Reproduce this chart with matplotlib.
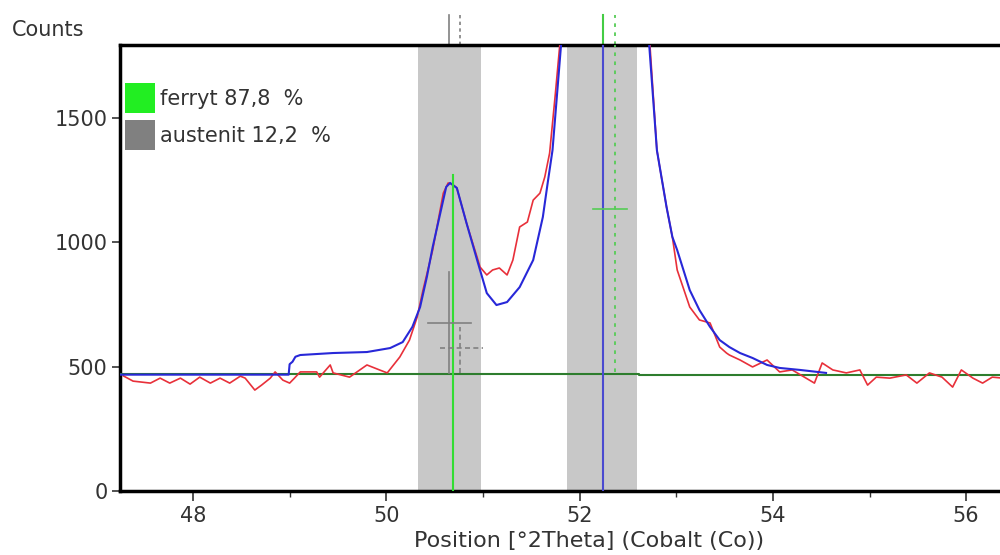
import matplotlib
matplotlib.use("Agg")
import matplotlib.pyplot as plt
from matplotlib.patches import Rectangle

# ---- data ----
obs_x = [47.28, 47.38, 47.56, 47.66, 47.76, 47.87, 47.97, 48.07, 48.18, 48.28, 48.38, 48.49,
         48.54, 48.64, 48.71, 48.80, 48.85, 48.93, 49.00, 49.05, 49.11, 49.28, 49.31, 49.42,
         49.45, 49.62, 49.80, 49.93, 50.01, 50.14, 50.24, 50.32, 50.38, 50.48, 50.59, 50.64,
         50.68, 50.73, 50.83, 50.94, 50.97, 51.04, 51.10, 51.17, 51.25, 51.31, 51.38, 51.46,
         51.52, 51.59, 51.64, 51.69, 51.75, 51.82, 52.00, 52.24, 52.45, 52.71, 52.80, 52.90,
         52.96, 53.01, 53.14, 53.24, 53.35, 53.45, 53.52, 53.55, 53.66, 53.79, 53.94, 54.07,
         54.20, 54.43, 54.51, 54.62, 54.76, 54.90, 54.98, 55.07, 55.21, 55.38, 55.49, 55.62,
         55.75, 55.86, 55.95, 56.07, 56.17, 56.27, 56.38]
obs_y = [463, 442, 434, 454, 434, 454, 430, 458, 434, 454, 434, 462,
         454, 406, 426, 454, 479, 446, 434, 454, 479, 479, 458, 507,
         475, 458, 507, 487, 475, 539, 607, 700, 808, 969, 1198, 1239,
         1235, 1219, 1078, 940, 901, 869, 889, 897, 869, 929, 1062, 1082,
         1170, 1198, 1263, 1359, 1600, 1900, 3500, 4500, 3500, 1900, 1371, 1142,
         1022, 889, 740, 688, 676, 579, 555, 547, 527, 499, 527, 479,
         487, 434, 515, 487, 475, 487, 426, 458, 454, 467, 434, 475,
         458, 418, 487, 454, 434, 458, 454]

calc_x = [47.25, 48.99, 49.00, 49.03, 49.06, 49.11, 49.45, 49.80, 50.04, 50.17, 50.27, 50.35,
          50.42, 50.48, 50.55, 50.62, 50.66, 50.73, 50.83, 50.94, 51.04, 51.14, 51.25, 51.38,
          51.52, 51.62, 51.67, 51.72, 51.82, 52.00, 52.24, 52.45, 52.71, 52.80, 52.90, 52.96,
          53.01, 53.14, 53.24, 53.35, 53.45, 53.55, 53.66, 53.79, 53.94, 54.07, 54.28, 54.55]
calc_y = [468, 468, 510, 520, 540, 547, 555, 559, 575, 599, 660, 740,
          861, 981, 1102, 1223, 1239, 1219, 1078, 929, 796, 748, 760, 820,
          929, 1102, 1239, 1371, 1850, 3500, 4500, 3500, 1850, 1371, 1142, 1022,
          969, 808, 728, 660, 607, 579, 555, 535, 507, 495, 487, 475]

base_x = [47.25, 52.62, 52.62, 56.4]
base_y = [471, 471, 466, 466]

bands = [(50.33, 50.98), (51.87, 52.59)]
ferryt_pos = 52.24
ferryt_ref = 52.364
aust_pos = 50.69
aust_ref = 50.76
aust_ref_solid = 50.647

legend_labels = ["ferryt 87,8  %", "austenit 12,2  %"]
legend_colors = ["#22ee22", "#808080"]
xticks = [48, 50, 52, 54, 56]
yticks = [0, 500, 1000, 1500]

# ---- figure ----
W, H = 1000, 555
fig = plt.figure(figsize=(10, 5.55), dpi=100)
ax = fig.add_axes([0.12, 1 - 491/H, 0.88, (491 - 45)/H])
ax.set_xlim(47.245, 56.35)
ax.set_ylim(0, 1794)

for a, b in bands:
    ax.axvspan(a, b, color="#c8c8c8", lw=0, zorder=1)

ax.plot(base_x, base_y, color="#2e7d2e", lw=1.5, zorder=3)
ax.plot(obs_x, obs_y, color="#e8303a", lw=1.2, zorder=4)
ax.plot(calc_x, calc_y, color="#2828d8", lw=1.5, zorder=5)

# reference / peak lines
ax.plot([aust_pos, aust_pos], [0, 1271], color="#33dd33", lw=1.5, zorder=6)
ax.plot([ferryt_pos, ferryt_pos], [0, 1794], color="#4a4ad0", lw=1.5, zorder=6)
ax.plot([ferryt_ref, ferryt_ref], [478, 1794], color="#55cc55", lw=1.3, ls=(0, (2, 3)), zorder=6)

# crosses
ax.plot([aust_ref_solid, aust_ref_solid], [475, 881], color="#808080", lw=1.2, zorder=6)
ax.plot([50.43, 50.875], [676, 676], color="#808080", lw=1.2, zorder=6)
ax.plot([aust_ref, aust_ref], [475, 660], color="#808080", lw=1.2, ls=(0, (3, 2)), zorder=6)
ax.plot([50.554, 50.999], [575, 575], color="#808080", lw=1.2, ls=(0, (3, 2)), zorder=6)
ax.plot([52.137, 52.488], [1134, 1134], color="#55cc55", lw=1.2, zorder=6)

# markers above the plot
ax.plot([aust_ref_solid, aust_ref_solid], [1794, 1914], color="#808080", lw=1.2, clip_on=False)
ax.plot([aust_ref, aust_ref], [1794, 1914], color="#808080", lw=1.2, ls=(0, (2, 2)), clip_on=False)
ax.plot([ferryt_pos, ferryt_pos], [1794, 1914], color="#44cc44", lw=1.5, clip_on=False)
ax.plot([ferryt_ref, ferryt_ref], [1794, 1914], color="#55cc55", lw=1.3, ls=(0, (2, 3)), clip_on=False)

# spines & ticks
for s in ["left", "bottom", "top"]:
    ax.spines[s].set_linewidth(2.5)
    ax.spines[s].set_color("black")
ax.spines["right"].set_visible(False)

ax.set_xticks(xticks)
ax.set_xticks([49, 51, 53, 55], minor=True)
ax.set_yticks(yticks)
ax.tick_params(axis="both", which="major", direction="out", labelsize=15,
               labelcolor="#333333", width=1.2, color="#333333")
ax.tick_params(axis="x", which="major", length=7, pad=4)
ax.tick_params(axis="x", which="minor", length=4, width=1.0, color="#333333")
ax.tick_params(axis="y", which="major", length=6, pad=3)

# legend (colour boxes + labels)
box_tops = [83, 120]
for top, col, lab in zip(box_tops, legend_colors, legend_labels):
    fig.patches.append(Rectangle((125/W, 1 - (top + 30)/H), 30/W, 30/H,
                                 transform=fig.transFigure, facecolor=col,
                                 edgecolor="none", zorder=10))
    fig.text(160/W, 1 - (top + 16)/H, lab, fontsize=15, color="#333333",
             ha="left", va="center", zorder=11)

fig.text(0.012, 0.946, "Counts", fontsize=15, color="#333333", ha="left", va="center")
fig.text(0.589, 0.025, "Position [°2Theta] (Cobalt (Co))", fontsize=16, color="#333333",
         ha="center", va="center")

fig.savefig("out.png", dpi=100)
